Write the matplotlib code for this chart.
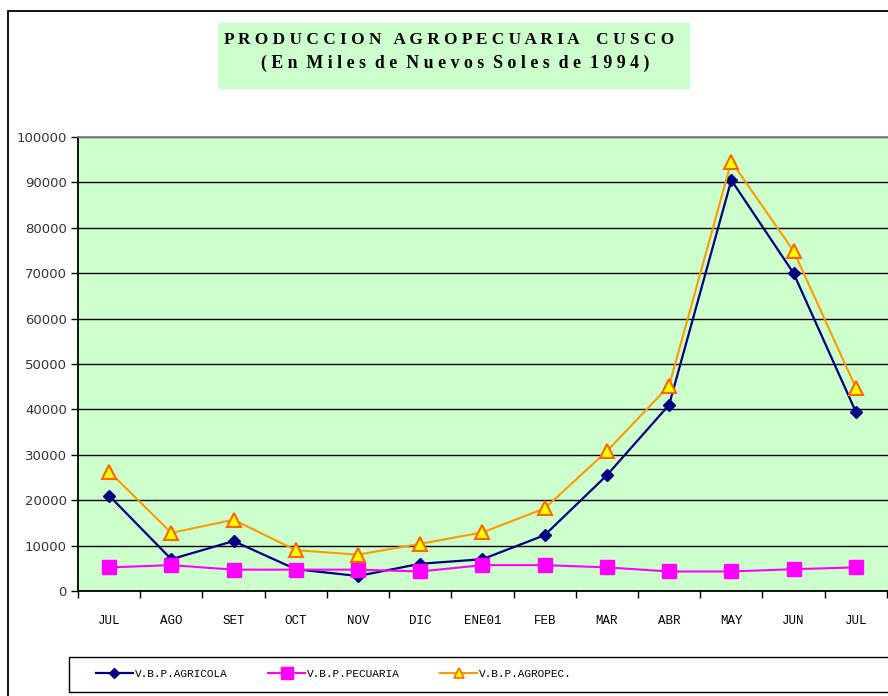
import matplotlib
matplotlib.use("Agg")
import matplotlib.pyplot as plt
from matplotlib.lines import Line2D
from matplotlib.patches import Rectangle

# data
meses = ["JUL", "AGO", "SET", "OCT", "NOV", "DIC", "ENE01", "FEB",
         "MAR", "ABR", "MAY", "JUN", "JUL"]
agricola = [21000, 7000, 11000, 4800, 3300, 6000, 7000, 12300,
            25500, 41000, 90500, 70000, 39500]
pecuaria = [5200, 5700, 4700, 4700, 4700, 4300, 5700, 5700,
            5200, 4300, 4300, 4800, 5200]
agropec = [26300, 12800, 15700, 9000, 8000, 10400, 12900, 18200,
           30800, 45200, 94600, 74900, 44800]
y_ticks = list(range(0, 100001, 10000))

W, H = 888, 696
fig = plt.figure(figsize=(W / 100, H / 100), dpi=100)


def fx(px):
    return px / W


def fy(px):
    return 1 - px / H


# outer chart frame (cut off at right / bottom like the source)
fig.patches.append(Rectangle((fx(8), -0.02), 1.05, fy(11) + 0.02, transform=fig.transFigure,
                             facecolor="none", edgecolor="black", linewidth=1.3, zorder=0))

# title box
fig.patches.append(Rectangle((fx(218), fy(89)), fx(690) - fx(218), fy(23) - fy(89),
                             transform=fig.transFigure, facecolor="#CCFFCC",
                             edgecolor="none", zorder=0))
fig.text(fx(449), fy(40), "P R O D U C C I O N   A G R O P E C U A R I A    C U S C O",
         ha="center", va="center", fontsize=12.4, fontweight="bold",
         family="Liberation Serif", zorder=2)
fig.text(fx(455), fy(63), "( E n  M i l e s  d e  N u e v o s  S o l e s  d e  1 9 9 4 )",
         ha="center", va="center", fontsize=12.8, fontweight="bold",
         family="Liberation Serif", zorder=2)

ax = fig.add_axes([fx(78), fy(591), fx(890) - fx(78), fy(137) - fy(591)])
ax.set_facecolor("#CCFFCC")
x = list(range(len(meses)))

ax.plot(x, agricola, color="#000080", linewidth=1.6, marker="D", markersize=6.5,
        markerfacecolor="#000080", markeredgecolor="#000080", zorder=3)
ax.plot(x, pecuaria, color="#FF00FF", linewidth=1.5, marker="s", markersize=10,
        markerfacecolor="#FF00FF", markeredgecolor="#FF00FF", zorder=4)
ax.plot(x, agropec, color="#FF9900", linewidth=1.5, marker="^", markersize=10,
        markerfacecolor="#FFFF00", markeredgecolor="#FF6600", markeredgewidth=1.5, zorder=5)

ax.set_ylim(0, 100000)
ax.set_xlim(-0.5, len(meses) - 0.45)
ax.set_yticks(y_ticks)
ax.set_yticklabels([str(v) for v in y_ticks], fontsize=9.5, color="#333333",
                   family="DejaVu Sans")
ax.tick_params(axis="y", length=5, width=1, direction="out", pad=3)
ax.grid(axis="y", color="black", linewidth=1, zorder=1)
ax.set_axisbelow(True)

# category boundaries get tick marks, centres get the labels
ax.set_xticks([i - 0.5 for i in range(len(meses) + 1)])
ax.set_xticklabels([])
ax.set_xticks(x, minor=True)
ax.set_xticklabels(meses, minor=True, fontsize=9, family="Liberation Mono")
ax.tick_params(axis="x", which="major", length=5, width=1, direction="out")
ax.tick_params(axis="x", which="minor", length=0, pad=17)

for side in ("left", "bottom"):
    ax.spines[side].set_color("black")
    ax.spines[side].set_linewidth(1.3)
ax.spines["top"].set_color("#808080")
ax.spines["top"].set_linewidth(1.3)
ax.spines["right"].set_visible(False)

# legend box
fig.patches.append(Rectangle((fx(69), fy(692)), 1.0, fy(657) - fy(692),
                             transform=fig.transFigure, facecolor="white",
                             edgecolor="black", linewidth=1.0, zorder=0))
handles = [
    Line2D([], [], color="#000080", linewidth=1.6, marker="D", markersize=5.5),
    Line2D([], [], color="#FF00FF", linewidth=1.5, marker="s", markersize=8),
    Line2D([], [], color="#FF9900", linewidth=1.5, marker="^", markersize=7,
           markerfacecolor="#FFFF00", markeredgecolor="#FF6600", markeredgewidth=1.2),
]
labels = ["V.B.P.AGRICOLA", "V.B.P.PECUARIA", "V.B.P.AGROPEC."]
leg = fig.legend(handles, labels, loc="center left", bbox_to_anchor=(fx(96), fy(674)),
                 ncol=3, frameon=False, borderpad=0, borderaxespad=0,
                 handlelength=3.3, handletextpad=0.2, columnspacing=3.65,
                 prop={"family": "Liberation Mono", "size": 8})

fig.savefig("out.png", dpi=100)
